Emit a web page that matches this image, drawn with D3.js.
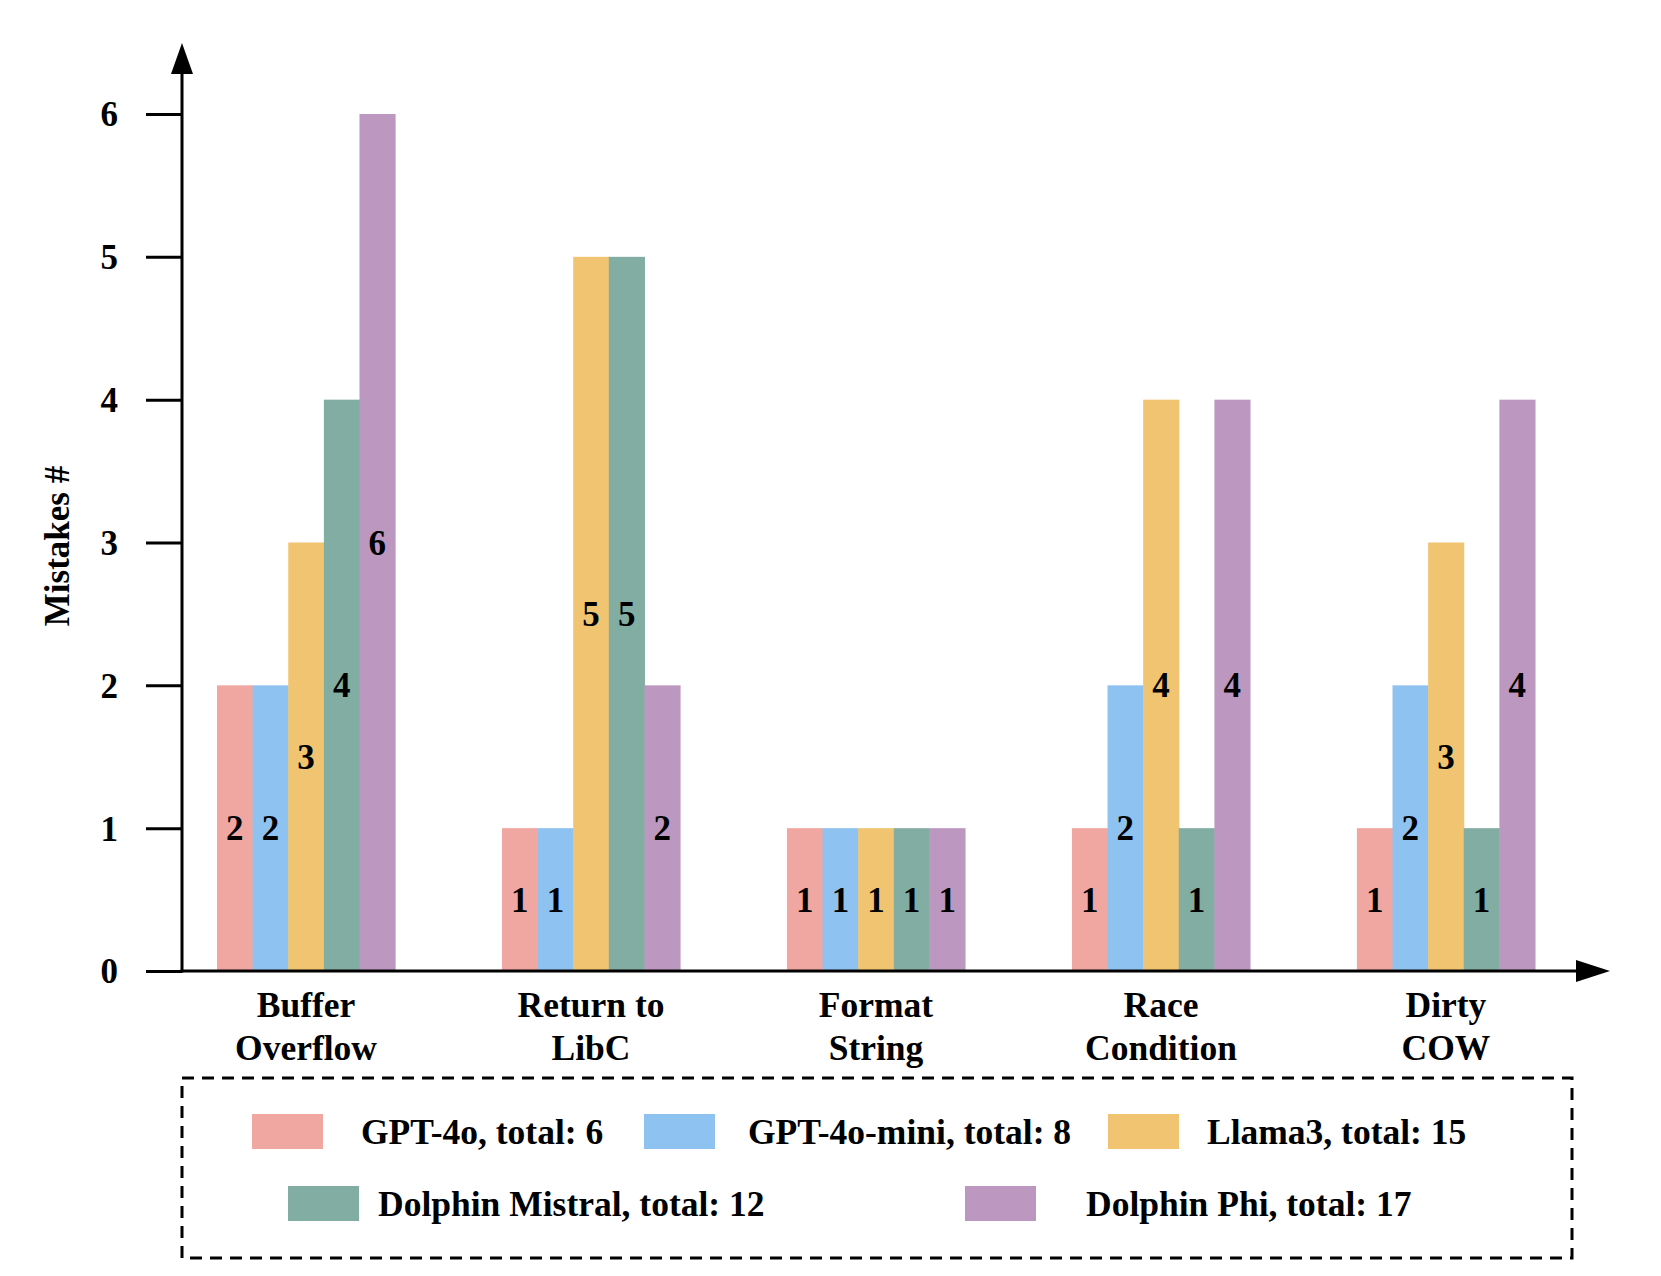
<!DOCTYPE html>
<html><head><meta charset="utf-8">
<script src="https://cdn.jsdelivr.net/npm/d3@7"></script>
<style>body{margin:0;background:#fff}svg text{font-family:"Liberation Serif","Times New Roman",serif;font-weight:bold;fill:#000}</style>
</head><body>
<svg id="c" width="1661" height="1276"></svg>
<script>
const categories = [["Buffer","Overflow"],["Return to","LibC"],["Format","String"],["Race","Condition"],["Dirty","COW"]];
const seriesNames = ["GPT-4o","GPT-4o-mini","Llama3","Dolphin Mistral","Dolphin Phi"];
const gpt4o = [2,1,1,1,1];
const gpt4omini = [2,1,1,2,2];
const llama3 = [3,5,1,4,3];
const dolphinMistral = [4,5,1,1,1];
const dolphinPhi = [6,2,1,4,4];
const legendLabels = ["GPT-4o, total: 6","GPT-4o-mini, total: 8","Llama3, total: 15","Dolphin Mistral, total: 12","Dolphin Phi, total: 17"];
const yTicks = [0,1,2,3,4,5,6];
const colors = ["#F1A7A1","#8EC2F0","#F0C471","#82ADA2","#BC98C1"];
const values = [gpt4o,gpt4omini,llama3,dolphinMistral,dolphinPhi];

const svg = d3.select("#c");
const x0 = 182, y0 = 971;
const y = d3.scaleLinear().domain([0,6]).range([y0,114]);
const catKeys = categories.map(c=>c.join(" "));
const x = d3.scaleBand().domain(catKeys).range([x0,1570]).paddingInner(0.375).paddingOuter(0.1228);
const xs = d3.scaleBand().domain(seriesNames).range([0,x.bandwidth()]);

// bars
const g = svg.append("g");
catKeys.forEach((ck,ci)=>{
  seriesNames.forEach((s,si)=>{
    const v = values[si][ci];
    g.append("rect").attr("x",x(ck)+xs(s)).attr("y",y(v)).attr("width",xs.bandwidth()+0.5).attr("height",y0-y(v)).attr("fill",colors[si]);
  });
});
catKeys.forEach((ck,ci)=>{
  seriesNames.forEach((s,si)=>{
    const v = values[si][ci];
    g.append("text").attr("x",x(ck)+xs(s)+xs.bandwidth()/2).attr("y",y(v/2)+12)
      .attr("text-anchor","middle").attr("font-size",35).text(v);
  });
});

// y axis ticks
const ya = svg.append("g").attr("transform",`translate(${x0},0)`)
  .call(d3.axisLeft(y).tickValues(yTicks).tickSize(36).tickPadding(28).tickFormat(d3.format("d")));
ya.select(".domain").remove();
ya.selectAll("line").attr("stroke","#000").attr("stroke-width",3);
ya.selectAll("text").attr("font-size",35).attr("font-family","Liberation Serif").attr("font-weight","bold").attr("fill","#000").attr("dy","0.34em");

// axis lines with arrows
svg.append("line").attr("x1",x0).attr("x2",x0).attr("y1",y0+1.5).attr("y2",70).attr("stroke","#000").attr("stroke-width",3);
svg.append("path").attr("d",`M${x0},43 L${x0-11},74 L${x0+11},74 Z`).attr("fill","#000");
svg.append("line").attr("x1",x0-1.5).attr("x2",1580).attr("y1",y0).attr("y2",y0).attr("stroke","#000").attr("stroke-width",3);
svg.append("path").attr("d",`M1610,${y0} L1576,${y0-11} L1576,${y0+11} Z`).attr("fill","#000");

// category labels
catKeys.forEach((ck,ci)=>{
  const t = svg.append("text").attr("text-anchor","middle").attr("font-size",35.5);
  categories[ci].forEach((line,li)=>{
    t.append("tspan").attr("x",x(ck)+x.bandwidth()/2).attr("y",1017+li*43).text(line);
  });
});

// y title
svg.append("text").attr("transform","translate(69,546) rotate(-90)").attr("text-anchor","middle").attr("font-size",35).text("Mistakes #");

// legend
svg.append("rect").attr("x",182).attr("y",1078).attr("width",1390).attr("height",180)
  .attr("fill","none").attr("stroke","#000").attr("stroke-width",3).attr("stroke-dasharray","12,8");
const legPos = [[252,1132,361],[644,1132,748],[1108,1132,1207],[288,1204,378],[965,1204,1086]];
legPos.forEach((p,i)=>{
  svg.append("rect").attr("x",p[0]).attr("y",p[1]-18).attr("width",71).attr("height",35).attr("fill",colors[i]);
  svg.append("text").attr("x",p[2]).attr("y",p[1]+12).attr("font-size",35.5).text(legendLabels[i]);
});
</script>
</body></html>
